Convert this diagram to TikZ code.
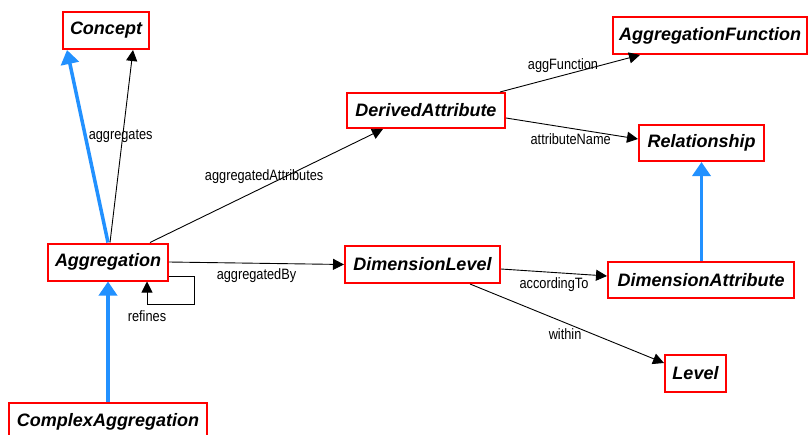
\documentclass[tikz,border=0pt]{standalone}
\usepackage{fontspec}
\setmainfont{Liberation Sans}
\newfontfamily\edgefont[FakeStretch=0.85]{Liberation Sans}
\usetikzlibrary{arrows.meta}
\definecolor{isablue}{RGB}{34,145,255}
\definecolor{boxred}{RGB}{255,0,0}

\begin{document}
\begin{tikzpicture}[x=1pt,y=-1pt,
  cls/.style={draw=boxred,line width=2pt,minimum height=37pt,inner sep=0pt,
    font=\fontsize{18}{20}\selectfont\bfseries\itshape},
  assoc/.style={line width=0.9pt,-{Triangle[length=11pt,width=11pt]}},
  inherit/.style={isablue,line width=3.5pt,-{Triangle[length=14pt,width=18pt]}},
  lbl/.style={font=\edgefont\fontsize{15}{17}\selectfont,inner sep=0pt}]

\useasboundingbox (0,0) rectangle (808,434);

% classes
\node[cls,minimum width=86pt]  (concept) at (106,30.5)   {Concept};
\node[cls,minimum width=120pt] (agg)     at (108,262)    {Aggregation};
\node[cls,minimum width=198pt] (cagg)    at (108,421.5)  {ComplexAggregation};
\node[cls,minimum width=158pt,minimum height=35pt] (dattr) at (426,110.5) {DerivedAttribute};
\node[cls,minimum width=194pt] (afun)    at (710,35.5)   {AggregationFunction};
\node[cls,minimum width=125pt,minimum height=36pt] (rel) at (701.5,143) {Relationship};
\node[cls,minimum width=155pt] (dlev)    at (422.5,264.5) {DimensionLevel};
\node[cls,minimum width=186pt,minimum height=36pt] (dimattr) at (701,280) {DimensionAttribute};
\node[cls,minimum width=61pt]  (level)   at (695.5,373.5) {Level};

% generalisations
\draw[inherit] (agg.north) -- ([xshift=-39pt]concept.south);
\draw[inherit] (cagg.north) -- (agg.south);
\draw[inherit] (dimattr.north -| rel.south) -- (rel.south);

% associations
\draw[assoc] ([xshift=2pt]agg.north) -- ([xshift=27pt]concept.south)
  node[lbl,pos=0.55,xshift=-2pt] {aggregates};
\draw[assoc] ([xshift=42pt]agg.north) -- ([xshift=-43pt]dattr.south)
  node[lbl,pos=0.49,yshift=10pt] {aggregatedAttributes};
\draw[assoc] (agg.east) -- (dlev.west)
  node[lbl,pos=0.5,yshift=-12pt] {aggregatedBy};
\draw[assoc] ([yshift=-14pt]agg.east) -- ++(25,0) -- ++(0,28)
  -| ([xshift=39pt]agg.south)
  node[lbl,pos=0.5,below=6pt] {refines};
\draw[assoc] ([xshift=74pt]dattr.north) -- ([xshift=-70pt]afun.south)
  node[lbl,pos=0.45,yshift=10pt] {aggFunction};
\draw[assoc] ([yshift=-7.5pt]dattr.east) -- ([yshift=4pt]rel.west)
  node[lbl,pos=0.49,yshift=-11pt] {attributeName};
\draw[assoc] ([yshift=-4.5pt]dlev.east) -- ([yshift=4pt]dimattr.west)
  node[lbl,pos=0.5,yshift=-12pt] {accordingTo};
\draw[assoc] ([xshift=47.5pt]dlev.south) -- ([yshift=10.5pt]level.west)
  node[lbl,pos=0.49,yshift=-11pt] {within};

\end{tikzpicture}
\end{document}
